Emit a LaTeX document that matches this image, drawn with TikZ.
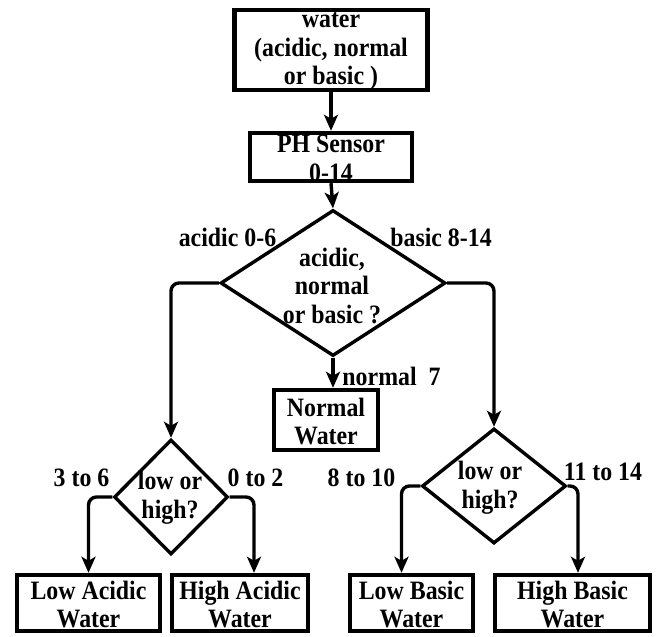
\documentclass[tikz,border=0pt]{standalone}
\usepackage{fontspec}
\setmainfont{Liberation Serif}[BoldFont={Liberation Serif Bold}, FakeStretch=0.9]
\usetikzlibrary{shapes.geometric,arrows.meta}
\begin{document}
\begin{tikzpicture}[x=1pt,y=-1pt,
  txt/.style={font=\fontsize{26.5}{28.5}\selectfont\bfseries, align=center, inner sep=0pt},
  boxn/.style={draw, line width=4.4pt, inner sep=0pt},
  inbox/.style={label={[txt,yshift=-1.5pt]center:{#1}}},
  dia/.style={diamond, draw, line width=3.4pt, inner sep=0pt},
  arr/.style={line width=3.4pt, -{Stealth[length=16pt,width=14pt,inset=4pt]}, rounded corners=8pt}]
\useasboundingbox (0,0) rectangle (656,637);
% boxes
\node[boxn, minimum width=193pt, minimum height=80pt, inbox={water\\(acidic, normal\\or basic )}] (a) at (331,50) {};
\node[boxn, minimum width=162pt, minimum height=48pt, inbox={PH Sensor\\0-14}] (b) at (331,157) {};
\node[dia, minimum width=225pt, minimum height=146pt] (c) at (333,283) {};
\node[txt] (ct) at (332,285.5) {acidic,\\normal\\or basic ?};
\node[boxn, minimum width=104pt, minimum height=60pt, inbox={Normal\\Water}] (n) at (326,420) {};
\node[dia, minimum width=114pt, minimum height=115pt] (d1) at (171,497) {};
\node[txt] (d1t) at (170,497.5) {low or\\high?};
\node[dia, minimum width=144pt, minimum height=115pt] (d2) at (494,486) {};
\node[txt] (d2t) at (490,487.5) {low or\\high?};
\node[boxn, minimum width=143pt, minimum height=56pt, inbox={Low Acidic\\Water}] (la) at (88.5,603) {};
\node[boxn, minimum width=136pt, minimum height=56pt, inbox={High Acidic\\Water}] (ha) at (240,603) {};
\node[boxn, minimum width=123pt, minimum height=56pt, inbox={Low Basic\\Water}] (lb) at (411.5,603) {};
\node[boxn, minimum width=155pt, minimum height=56pt, inbox={High Basic\\Water}] (hb) at (572.5,603) {};
% labels
\node[txt] (l1) at (227.5,237) {acidic 0-6};
\node[txt] (l2) at (441,237) {basic 8-14};
\node[txt] (l3) at (391.5,376) {normal\ \ 7};
\node[txt] (l4) at (81.5,478) {3 to 6};
\node[txt] (l5) at (255.5,478) {0 to 2};
\node[txt] (l6) at (361.5,478) {8 to 10};
\node[txt] (l7) at (603,472) {11 to 14};
% connectors
\draw[arr] (a) -- (b);
\draw[arr] (b.south) -- (c.north);
\draw[arr] (c.south) -- (c.south |- n.north);
\draw[arr] (c.west) -| (d1.north);
\draw[arr] (c.east) -| (d2.north);
\draw[arr] (d1.west) -| (la.north);
\draw[arr] (d1.east) -| ([xshift=14pt]ha.north);
\draw[arr] (d2.west) -| ([xshift=-10pt]lb.north);
\draw[arr] (d2.east) -| ([xshift=5.5pt]hb.north);
\end{tikzpicture}
\end{document}
